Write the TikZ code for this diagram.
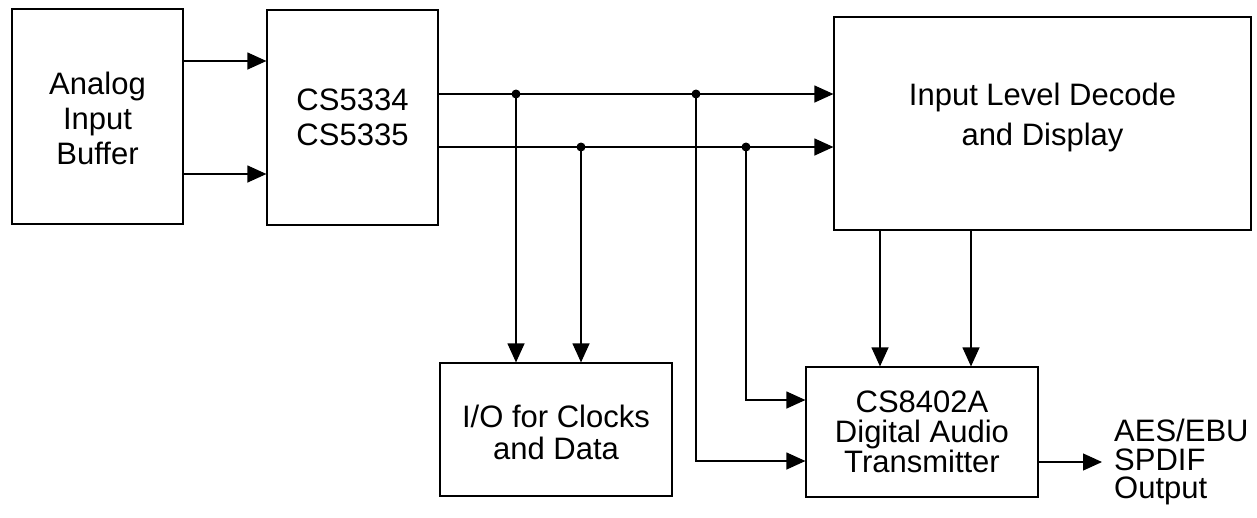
\documentclass[tikz,border=0pt]{standalone}
\usepackage{fontspec}
\setmainfont{Liberation Sans}
\usetikzlibrary{arrows.meta}
\begin{document}
\begin{tikzpicture}[x=1pt,y=-1pt,
  box/.style={draw,line width=1.2pt,inner sep=0pt},
  lbl/.style={align=center,font=\fontsize{31}{35}\selectfont,inner sep=0pt},
  arr/.style={line width=1.2pt,-{Triangle[length=19pt,width=17pt]}},
  wire/.style={line width=1.2pt},
  dot/.style={circle,fill,inner sep=0pt,minimum size=9pt}]
\useasboundingbox (0,0) rectangle (1257,517);
% boxes
\node[box,minimum width=171pt,minimum height=215pt] (an) at (97.5,116.5) {};
\node[lbl] (ant) at (97.5,118) {Analog\\Input\\Buffer};
\node[box,minimum width=171pt,minimum height=215pt] (cs) at (352.5,117.5) {};
\node[lbl] (cst) at (352.5,117.5) {CS5334\\CS5335};
\node[box,minimum width=417pt,minimum height=213pt] (ild) at (1042.5,123.5) {};
\node[lbl,font=\fontsize{31}{40}\selectfont] (ildt) at (1042.5,117) {Input Level Decode\\and Display};
\node[box,minimum width=232pt,minimum height=133pt] (io) at (556,429.5) {};
\node[lbl,font=\fontsize{31}{32}\selectfont] (iot) at (556,432) {I/O for Clocks\\and Data};
\node[box,minimum width=232pt,minimum height=130pt] (tx) at (922,432) {};
\node[lbl,font=\fontsize{31}{30}\selectfont] (txt) at (922,432) {CS8402A\\Digital Audio\\Transmitter};
\node[lbl,font=\fontsize{31}{28.5}\selectfont,align=left,anchor=west] (out) at (1114,462) {AES/EBU\\SPDIF\\Output};
% analog to CS
\draw[arr] (an.east |- 0,61) -- (cs.west |- 0,61);
\draw[arr] (an.east |- 0,174) -- (cs.west |- 0,174);
% junctions
\coordinate (d1) at (516,94);
\coordinate (d2) at (696,94);
\coordinate (d3) at (581,147);
\coordinate (d4) at (746,147);
\draw[arr] (cs.east |- d1) -- (ild.west |- d1);
\draw[arr] (cs.east |- d3) -- (ild.west |- d3);
\draw[arr] (d1) -- (d1 |- io.north);
\draw[arr] (d3) -- (d3 |- io.north);
\coordinate (b2) at (696,461);
\coordinate (b4) at (746,400);
\draw[arr] (d2) -- (b2) -- (tx.west |- b2);
\draw[arr] (d4) -- (b4) -- (tx.west |- b4);
\node[dot] (n1) at (d1) {};
\node[dot] (n2) at (d2) {};
\node[dot] (n3) at (d3) {};
\node[dot] (n4) at (d4) {};
% ild to tx
\coordinate (v1) at (880,0);
\coordinate (v2) at (971,0);
\draw[arr] (v1 |- ild.south) -- (v1 |- tx.north);
\draw[arr] (v2 |- ild.south) -- (v2 |- tx.north);
% output
\coordinate (oe) at (1102,462);
\draw[arr] (tx.east |- oe) -- (oe);
\end{tikzpicture}
\end{document}
